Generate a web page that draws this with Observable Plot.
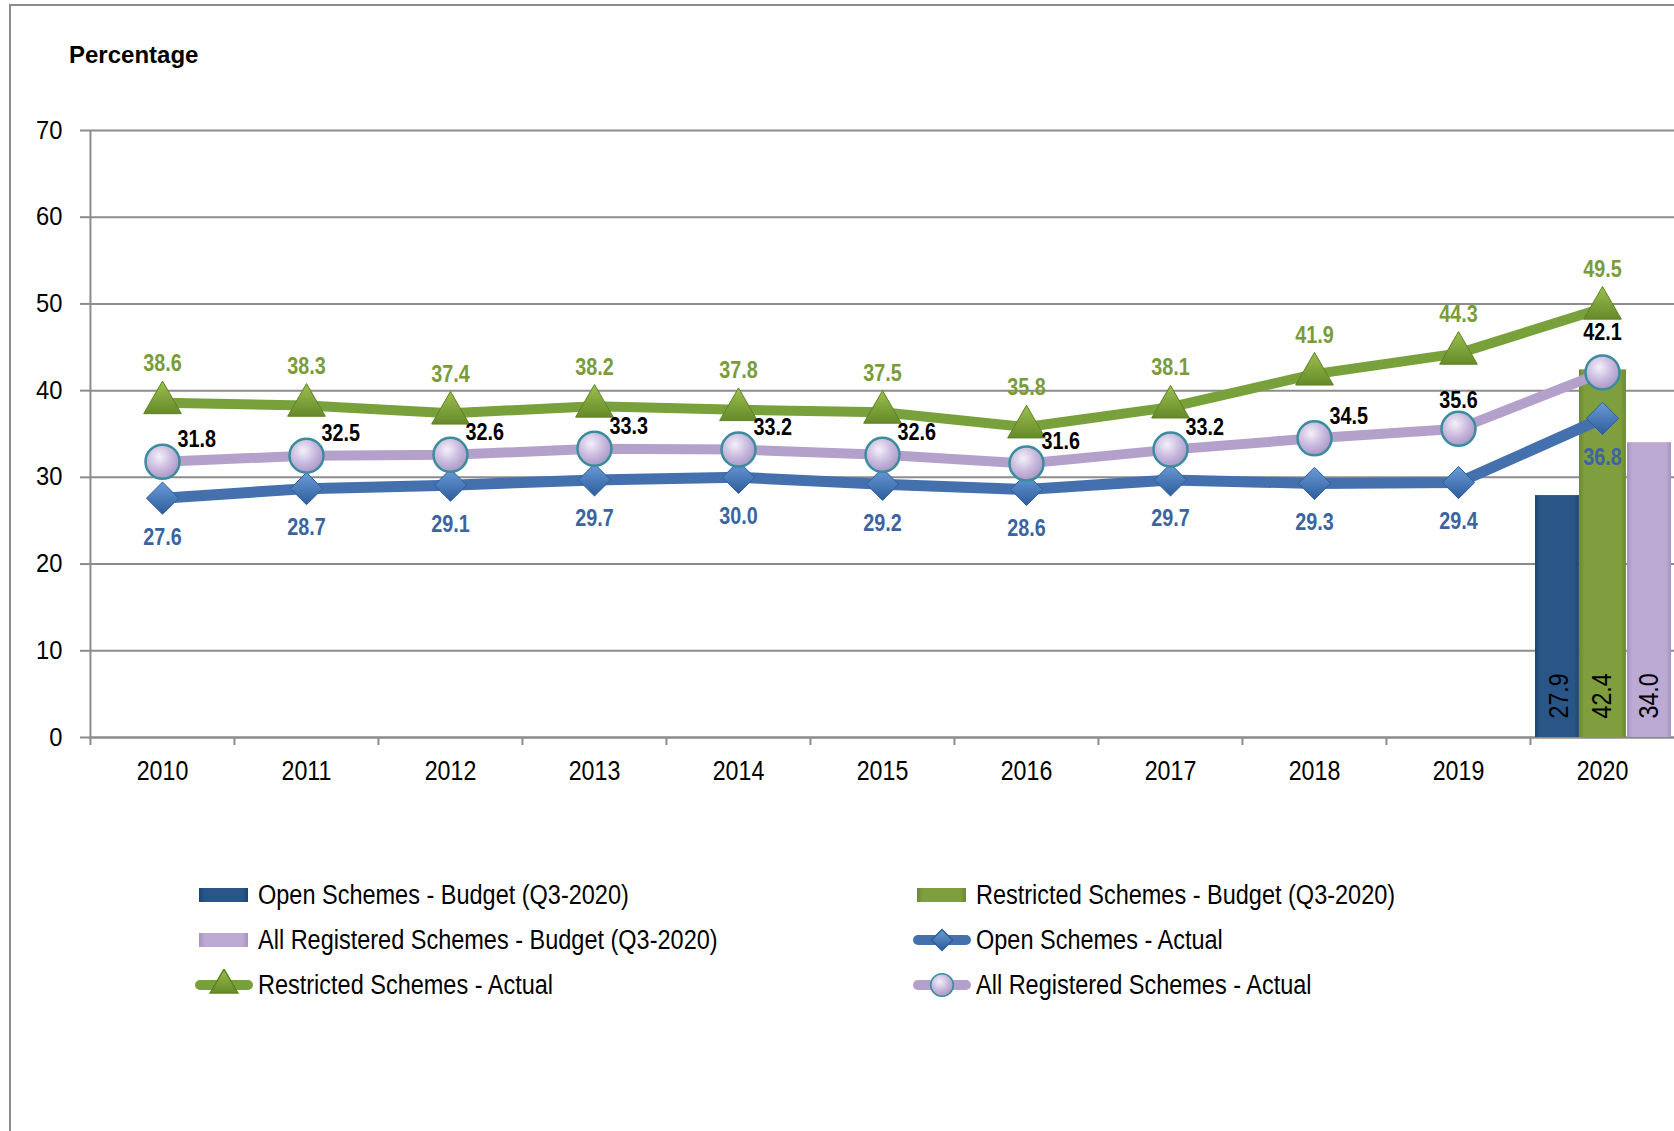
<!DOCTYPE html>
<html>
<head>
<meta charset="utf-8">
<script src="https://cdn.jsdelivr.net/npm/d3@7"></script>
<script src="https://cdn.jsdelivr.net/npm/@observablehq/plot@0.6"></script>
<style>
  body { margin: 0; background: #fff; }
  #wrap { position: relative; width: 1674px; height: 1131px; overflow: hidden;
          font-family: "Liberation Sans Narrow", "Arial Narrow", "Liberation Sans", Arial, sans-serif; }
  #frame { position: absolute; left: 9px; top: 4px; width: 3000px; height: 3000px;
           border-left: 2px solid #8c8c8c; border-top: 2px solid #8c8c8c; }
  #title { position: absolute; left: 69px; top: 41px; line-height: 24px;
           font: bold 24px "Liberation Sans", Arial, sans-serif; color: #000; white-space: nowrap; }
  #chart { position: absolute; left: 0; top: 0; }
  .leg { position: absolute; height: 28px; line-height: 28px; font-size: 27px; color: #000; white-space: nowrap; }
  .leg svg { position: absolute; top: 0; }
  .leg span { position: absolute; top: 0; transform: scaleX(0.87); transform-origin: 0 50%; }
  #defs { position: absolute; width: 0; height: 0; }
</style>
</head>
<body>
<svg id="defs" width="0" height="0">
  <defs>
    <radialGradient id="gCircle" cx="40%" cy="35%" r="70%">
      <stop offset="0%" stop-color="#f4f0fa"/>
      <stop offset="55%" stop-color="#c8b8dd"/>
      <stop offset="100%" stop-color="#a692c2"/>
    </radialGradient>
    <linearGradient id="gTri" x1="0" y1="0" x2="0" y2="1">
      <stop offset="0%" stop-color="#9bc04d"/>
      <stop offset="100%" stop-color="#66892a"/>
    </linearGradient>
    <linearGradient id="gDia" x1="0" y1="0" x2="0" y2="1">
      <stop offset="0%" stop-color="#6a9cd8"/>
      <stop offset="100%" stop-color="#2d5d9c"/>
    </linearGradient>
    <linearGradient id="gBarBlue" x1="0" y1="0" x2="1" y2="0">
      <stop offset="0%" stop-color="#1d4472"/>
      <stop offset="12%" stop-color="#2a5687"/>
      <stop offset="88%" stop-color="#2a5687"/>
      <stop offset="100%" stop-color="#1d4472"/>
    </linearGradient>
    <linearGradient id="gBarGreen" x1="0" y1="0" x2="1" y2="0">
      <stop offset="0%" stop-color="#6a8a30"/>
      <stop offset="12%" stop-color="#7f9e3e"/>
      <stop offset="88%" stop-color="#7f9e3e"/>
      <stop offset="100%" stop-color="#6a8a30"/>
    </linearGradient>
    <linearGradient id="gBarPurple" x1="0" y1="0" x2="1" y2="0">
      <stop offset="0%" stop-color="#a692c2"/>
      <stop offset="12%" stop-color="#bcaad4"/>
      <stop offset="88%" stop-color="#bcaad4"/>
      <stop offset="100%" stop-color="#a692c2"/>
    </linearGradient>
  </defs>
</svg>
<div id="wrap">
  <div id="frame"></div>
  <div id="chart"></div>
  <div id="title">Percentage</div>
  <div id="legend"></div>
</div>
<script>
// ---- data ----
const years = ["2010","2011","2012","2013","2014","2015","2016","2017","2018","2019","2020"];
const restrictedActual = [38.6, 38.3, 37.4, 38.2, 37.8, 37.5, 35.8, 38.1, 41.9, 44.3, 49.5];
const allActual        = [31.8, 32.5, 32.6, 33.3, 33.2, 32.6, 31.6, 33.2, 34.5, 35.6, 42.1];
const openActual       = [27.6, 28.7, 29.1, 29.7, 30.0, 29.2, 28.6, 29.7, 29.3, 29.4, 36.8];
const budgetYear = "2020";
const budgetSeries = ["Open Schemes - Budget (Q3-2020)", "Restricted Schemes - Budget (Q3-2020)", "All Registered Schemes - Budget (Q3-2020)"];
const budgetValues = [27.9, 42.4, 34.0];
const yTicks = [0, 10, 20, 30, 40, 50, 60, 70];
const legendLabels = [
  "Open Schemes - Budget (Q3-2020)", "Restricted Schemes - Budget (Q3-2020)",
  "All Registered Schemes - Budget (Q3-2020)", "Open Schemes - Actual",
  "Restricted Schemes - Actual", "All Registered Schemes - Actual"
];

// ---- tables ----
const rows = years.map((year, i) => ({year, restricted: restrictedActual[i], all: allActual[i], open: openActual[i]}));
const budget = budgetSeries.map((s, i) => ({year: budgetYear, series: s, value: budgetValues[i]}));

const W = 1674, H = 800, ML = 89, MR = 0;
const band = (W - ML - MR) / years.length;
const font = '"Liberation Sans Narrow", "Arial Narrow", "Liberation Sans", Arial, sans-serif';

const C = {
  green: "#78a03b", greenText: "#7a9c38",
  purple: "#b4a1cb",
  blue: "#4471ad", blueText: "#3b64a0",
  grid: "#8c8c8c"
};

const barStyle = [
  {fill: "url(#gBarBlue)", insetLeft: 5, insetRight: band - 49, dx: -43},
  {fill: "url(#gBarGreen)", insetLeft: 49, insetRight: band - 96, dx: 0},
  {fill: "url(#gBarPurple)", insetLeft: 97, insetRight: 3, dx: 47}
];

const labelFont = {fontWeight: "bold", fontSize: 23, fontFamily: font};

const marks = [
  Plot.gridY(yTicks, {stroke: C.grid, strokeOpacity: 1, strokeWidth: 2}),
  Plot.axisY(yTicks, {tickSize: 9, tickPadding: 18, fontSize: 25, stroke: C.grid, strokeWidth: 2, fill: "#000", label: null, fontFamily: font}),
  Plot.axisX({tickSize: 0, tickPadding: 23, fontSize: 27, fill: "#000", label: null, fontFamily: font}),
  Plot.ruleX([years[0]], {x: d => d, dx: -band / 2, y1: 0, y2: 70, stroke: C.grid, strokeWidth: 2}),
  Plot.ruleX(years, {x: d => d, dx: -band / 2, y1: 0, y2: 0, insetBottom: -8, stroke: C.grid, strokeWidth: 2}),
  Plot.ruleY([0], {stroke: C.grid, strokeWidth: 2}),
  ...budget.map((b, i) => Plot.barY([b], {x: "year", y: "value", fill: barStyle[i].fill,
      insetLeft: barStyle[i].insetLeft, insetRight: barStyle[i].insetRight})),
  ...budget.map((b, i) => Plot.text([b], {x: "year", y: 0, text: d => d.value.toFixed(1), rotate: -90,
      textAnchor: "start", dx: barStyle[i].dx, dy: -19, fontSize: 27, fill: "#000", fontFamily: font})),
  Plot.lineY(rows, {x: "year", y: "open", stroke: C.blue, strokeWidth: 11}),
  Plot.dot(rows, {x: "year", y: "open", symbol: "diamond2", r: 14.5, fill: "url(#gDia)", stroke: "#2e5d99", strokeWidth: 1}),
  Plot.lineY(rows, {x: "year", y: "all", stroke: C.purple, strokeWidth: 10}),
  Plot.dot(rows, {x: "year", y: "all", r: 17, fill: "url(#gCircle)", stroke: "#3a8d9f", strokeWidth: 2.5}),
  Plot.lineY(rows, {x: "year", y: "restricted", stroke: C.green, strokeWidth: 10}),
  Plot.dot(rows, {x: "year", y: "restricted", symbol: "triangle", r: 14, fill: "url(#gTri)", stroke: "#5f8226", strokeWidth: 1}),
  Plot.text(rows, {x: "year", y: "restricted", text: d => d.restricted.toFixed(1), dy: -39, fill: C.greenText, ...labelFont}),
  Plot.text(rows, {x: "year", y: "open", text: d => d.open.toFixed(1), dy: 39, fill: C.blueText, ...labelFont}),
  Plot.text(rows, {filter: d => d.year < "2019", x: "year", y: "all", text: d => d.all.toFixed(1),
      dx: 15, dy: -22, textAnchor: "start", fill: "#000", ...labelFont}),
  Plot.text(rows, {filter: d => d.year === "2019", x: "year", y: "all", text: d => d.all.toFixed(1),
      dy: -28, fill: "#000", ...labelFont}),
  Plot.text(rows, {filter: d => d.year === budgetYear, x: "year", y: "all", text: d => d.all.toFixed(1),
      dy: -40, fill: "#000", ...labelFont})
];

const chart = Plot.plot({
  width: W, height: H,
  marginLeft: ML, marginRight: MR, marginTop: 130, marginBottom: H - 737,
  x: {type: "band", domain: years, padding: 0},
  y: {domain: [0, 70]},
  style: {fontFamily: font, background: "transparent", overflow: "visible"},
  marks
});

// narrow the text glyphs horizontally (condensed look of the original font)
chart.querySelectorAll("text").forEach(t => {
  const g = t.closest("g[aria-label]");
  const lab = g ? g.getAttribute("aria-label") : "";
  const s = lab.startsWith("y-axis") ? 0.95 : 0.86;
  const tr = t.getAttribute("transform");
  if (tr) {
    t.setAttribute("transform", tr + ` scale(${s},1)`);
  } else {
    const x = +(t.getAttribute("x") || 0), y = +(t.getAttribute("y") || 0);
    t.removeAttribute("x"); t.removeAttribute("y");
    t.setAttribute("transform", `translate(${x},${y}) scale(${s},1)`);
  }
});
document.getElementById("chart").appendChild(chart);

// ---- legend ----
const legendSpec = [
  {kind: "bar", fill: "url(#gBarBlue)"},
  {kind: "bar", fill: "url(#gBarGreen)"},
  {kind: "bar", fill: "url(#gBarPurple)"},
  {kind: "line", stroke: C.blue, symbol: d3.symbolDiamond2, size: 280, fill: "url(#gDia)", mstroke: "#2e5d99"},
  {kind: "line", stroke: C.green, symbol: d3.symbolTriangle, size: 330, fill: "url(#gTri)", mstroke: "#5f8226"},
  {kind: "line", stroke: C.purple, symbol: d3.symbolCircle, size: 400, fill: "url(#gCircle)", mstroke: "#3a8d9f"}
];
const colX = [{sw: 195, tx: 258}, {sw: 913, tx: 976}];
const rowTop = [881, 926, 971];
const leg = d3.select("#legend");
legendLabels.forEach((label, i) => {
  const col = i % 2, row = Math.floor(i / 2);
  const spec = legendSpec[i];
  const item = leg.append("div").attr("class", "leg").style("left", "0px").style("top", rowTop[row] + "px");
  const svg = item.append("svg").attr("width", 58).attr("height", 30).style("left", colX[col].sw + "px").style("top", "-2px");
  if (spec.kind === "bar") {
    svg.append("rect").attr("x", 4).attr("y", 9).attr("width", 49).attr("height", 14).attr("fill", spec.fill);
  } else {
    svg.append("line").attr("x1", 5).attr("x2", 53).attr("y1", 16).attr("y2", 16)
      .attr("stroke", spec.stroke).attr("stroke-width", 10).attr("stroke-linecap", "round");
    svg.append("path").attr("transform", "translate(29,16)")
      .attr("d", d3.symbol(spec.symbol, spec.size)()).attr("fill", spec.fill).attr("stroke", spec.mstroke).attr("stroke-width", 1.5);
  }
  item.append("span").style("left", colX[col].tx + "px").text(label);
});
</script>
</body>
</html>
